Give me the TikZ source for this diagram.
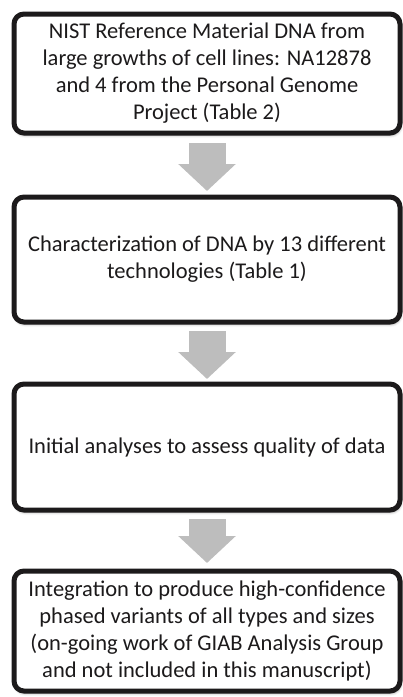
\documentclass[tikz,border=0pt]{standalone}
\usepackage{fontspec}
\setmainfont{Carlito}
\usepackage{tikz}
\usetikzlibrary{arrows.meta,shadows.blur}
\definecolor{StepInk}{HTML}{1c1a1b}
\definecolor{StepArrow}{HTML}{bdbdbd}

\tikzset{
  stepbox/.style={draw=StepInk, line width=5pt, rounded corners=10pt,
    fill=white, minimum width=386pt, align=center, text=StepInk,
    font=\fontsize{22.5}{27}\selectfont,
    blur shadow={shadow xshift=1pt, shadow yshift=-2.5pt,
      shadow blur radius=2.5pt, shadow opacity=35}},
  flowarrow/.style={draw=StepArrow, line width=37pt,
    -{Triangle[length=27pt, width=56pt]}}
}

\begin{document}
\begin{tikzpicture}[x=1pt, y=-1pt]
   \useasboundingbox (0,0) rectangle (403,697);

   \node[stepbox, minimum height=119pt] (nist) at (207,73.5)
     {NIST Reference Material DNA from\\ large growths of cell lines: NA12878\\
      and 4 from the Personal Genome\\ Project (Table 2)};
   \node[stepbox, minimum height=125pt] (tech) at (207,259.5)
     {Characterization of DNA by 13 different\\ technologies (Table 1)};
   \node[stepbox, minimum height=126pt] (qual) at (207,447)
     {Initial analyses to assess quality of data};
   \node[stepbox, minimum height=120pt] (integ) at (207,631)
     {Integration to produce high-confidence\\ phased variants of all types and sizes\\
      (on-going work of GIAB Analysis Group\\ and not included in this manuscript)};

   % grey block arrows between the steps
   \draw[flowarrow, shorten <=7.5pt, shorten >=3.5pt] (nist.south) -- (tech.north);
   \draw[flowarrow, shorten <=6.5pt, shorten >=2.5pt] (tech.south) -- (qual.north);
   \draw[flowarrow, shorten <=6.5pt, shorten >=5.5pt] (qual.south) -- (integ.north);
\end{tikzpicture}
\end{document}
